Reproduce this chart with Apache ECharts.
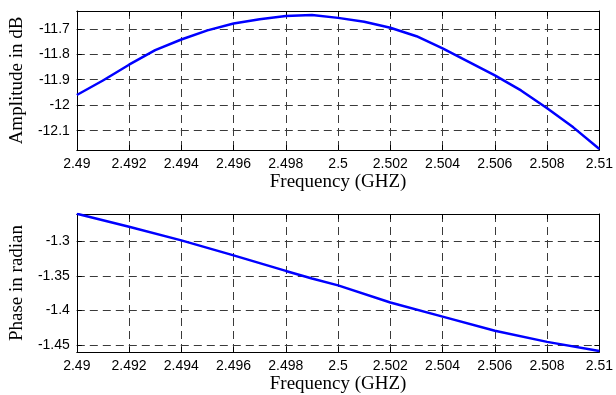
<!DOCTYPE html>
<html>
<head>
<meta charset="utf-8">
<script src="https://cdn.jsdelivr.net/npm/echarts@6/dist/echarts.min.js"></script>
<style>
  html, body { margin: 0; padding: 0; background: #fff; }
  #chart { width: 616px; height: 395px; }
</style>
</head>
<body>
<div id="chart"></div>
<script>
// frequency in GHz, shared by both plots
const ampFreq = [2.49, 2.491, 2.492, 2.493, 2.494, 2.495, 2.496, 2.497, 2.498, 2.499, 2.5,
  2.501, 2.502, 2.503, 2.504, 2.505, 2.506, 2.507, 2.508, 2.509, 2.51]
const amplitude = [-11.960, -11.903, -11.841, -11.784, -11.742, -11.706, -11.679, -11.662, -11.650, -11.646, -11.657,
  -11.672, -11.696, -11.729, -11.777, -11.830, -11.883, -11.942, -12.012, -12.087, -12.172]

const phaseFreq = [2.49, 2.492, 2.494, 2.496, 2.498, 2.499, 2.5, 2.502, 2.504, 2.506, 2.508, 2.51]
const phase = [-1.260, -1.279, -1.2986, -1.3204, -1.3429, -1.3539, -1.3639, -1.3886, -1.4091, -1.4296, -1.4457, -1.4590]

const ampTicks = [-11.7, -11.8, -11.9, -12, -12.1]
const phaseTicks = [-1.3, -1.35, -1.4, -1.45]

const chart = echarts.init(document.getElementById('chart'), null, { renderer: 'canvas' })

const tickFont = { color: '#000', fontFamily: 'Liberation Sans, Arial, sans-serif', fontSize: 14 }
const titleFont = { color: '#000', fontFamily: 'Liberation Serif, Times New Roman, serif', fontSize: 19 }
const gridLine = { show: true, lineStyle: { color: '#3a3a3a', width: 1, type: [8, 5] } }
const blackLine = { show: true, lineStyle: { color: '#000', width: 1 } }

function freqAxis(gridIndex, position, main) {
  return {
    type: 'value',
    gridIndex,
    position,
    min: 2.49,
    max: 2.51,
    interval: 0.002,
    name: main ? 'Frequency (GHZ)' : '',
    nameLocation: 'middle',
    nameGap: 23,
    nameTextStyle: titleFont,
    axisLine: { ...blackLine, onZero: false },
    axisTick: { show: true, inside: true, length: 5, lineStyle: { color: '#000' } },
    axisLabel: { show: main, margin: 7, ...tickFont },
    splitLine: main ? gridLine : { show: false },
  }
}

function valueAxis(gridIndex, position, min, max, ticks, title) {
  const main = position === 'left'
  return {
    type: 'value',
    gridIndex,
    position,
    min,
    max,
    name: main ? title : '',
    nameLocation: 'middle',
    nameGap: 46,
    nameTextStyle: titleFont,
    axisLine: { ...blackLine, onZero: false },
    axisTick: { show: true, inside: true, length: 5, customValues: ticks, lineStyle: { color: '#000' } },
    axisLabel: { show: main, margin: 7, customValues: ticks, ...tickFont },
    splitLine: main ? gridLine : { show: false },
  }
}

chart.setOption({
  animation: false,
  backgroundColor: '#fff',
  grid: [
    { left: 71, top: 11, width: 532, height: 139 },
    { left: 71, top: 214, width: 532, height: 140 },
  ],
  xAxis: [
    freqAxis(0, 'bottom', true),
    freqAxis(0, 'top', false),
    freqAxis(1, 'bottom', true),
    freqAxis(1, 'top', false),
  ],
  yAxis: [
    valueAxis(0, 'left', -12.176, -11.63, ampTicks, 'Amplitude in dB'),
    valueAxis(0, 'right', -12.176, -11.63, ampTicks),
    valueAxis(1, 'left', -1.4604, -1.2604, phaseTicks, 'Phase in radian'),
    valueAxis(1, 'right', -1.4604, -1.2604, phaseTicks),
  ],
  series: [
    {
      name: 'Amplitude',
      type: 'line',
      xAxisIndex: 0,
      yAxisIndex: 0,
      showSymbol: false,
      lineStyle: { color: '#0000ff', width: 2.5 },
      data: ampFreq.map((f, i) => [f, amplitude[i]]),
    },
    {
      name: 'Phase',
      type: 'line',
      xAxisIndex: 2,
      yAxisIndex: 2,
      showSymbol: false,
      lineStyle: { color: '#0000ff', width: 2.5 },
      data: phaseFreq.map((f, i) => [f, phase[i]]),
    },
  ],
})
</script>
</body>
</html>
